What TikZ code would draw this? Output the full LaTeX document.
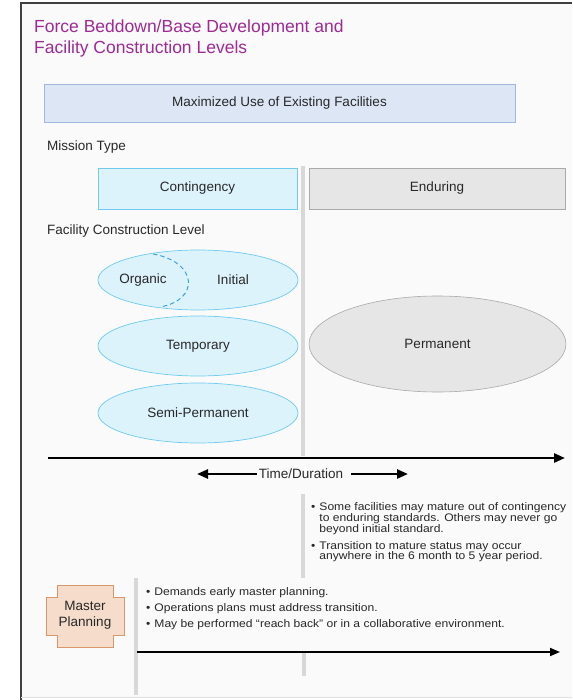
\documentclass[tikz,border=0pt]{standalone}
\usepackage{fontspec}
\setmainfont{Liberation Sans}
\newfontfamily\widefont[FakeStretch=1.1]{Liberation Sans}
\usetikzlibrary{arrows.meta,shapes.geometric}
\definecolor{titlepurple}{RGB}{158,42,150}
\definecolor{maxfill}{RGB}{220,230,245}
\definecolor{maxdraw}{RGB}{160,184,221}
\definecolor{contfill}{RGB}{221,243,252}
\definecolor{contdraw}{RGB}{110,203,239}
\definecolor{dashblue}{RGB}{60,165,220}
\definecolor{endfill}{RGB}{230,230,230}
\definecolor{enddraw}{RGB}{170,170,170}
\definecolor{sepgray}{RGB}{216,216,216}
\definecolor{mpfill}{RGB}{245,220,203}
\definecolor{mpdraw}{RGB}{217,150,107}
\definecolor{txt}{RGB}{40,40,40}
\tikzset{
  lbl/.style={font=\fontsize{13.5}{16}\selectfont, text=txt},
  sectlbl/.style={lbl, anchor=west, inner sep=0pt},
  contbox/.style={draw=contdraw, fill=contfill, line width=0.8pt},
  endbox/.style={draw=enddraw, fill=endfill, line width=0.6pt},
  contell/.style={ellipse, draw=contdraw, fill=contfill, line width=0.7pt, minimum width=200pt, minimum height=60pt, inner sep=0pt},
  sepline/.style={draw=sepgray, line width=4pt},
  timeline/.style={line width=2.6pt, -{Triangle[length=11pt,width=9pt]}},
  bullets/.style={font=\widefont\fontsize{11}{9.6}\selectfont, text=txt, anchor=base west, inner sep=0pt, align=left}
}
\begin{document}
\begin{tikzpicture}[x=1pt,y=-1pt]
\useasboundingbox (0,0) rectangle (572,700);
% frame
\fill[white!98!black] (21,3) rectangle (572,697);
\draw[black!75, line width=1.6pt] (21,700) -- (21,3) -- (572,3);
\draw[black!12, line width=0.6pt] (21,697) -- (572,697);
% title
\node[anchor=base west, align=left, text=titlepurple, font=\fontsize{17.5}{21}\selectfont, inner sep=0pt] (title) at (34,54) {Force Beddown/Base Development and\\Facility Construction Levels};
% maximized box
\node[draw=maxdraw, fill=maxfill, line width=0.8pt, minimum width=471pt, minimum height=38pt, lbl] (max) at (279.5,103) {Maximized Use of Existing Facilities};
% mission type
\node[sectlbl] (mt) at (47,147) {Mission Type};
% separator
\draw[sepline] (303,166) -- (303,456);
\node[contbox, minimum width=199pt, minimum height=41pt, lbl] (cont) at (197.5,188.5) {Contingency};
\node[endbox, minimum width=256pt, minimum height=41pt, lbl] (end) at (437,188.5) {Enduring};
\node[sectlbl] (fcl) at (47,231) {Facility Construction Level};
% ellipses
\node[contell] (init) at (198,280) {};
\node[lbl] (orgl) at (143,280) {Organic};
\node[lbl] (initl) at (233,280) {Initial};
\draw[dashblue, line width=1pt, dash pattern=on 4.5pt off 3pt] (153,254) .. controls (198,262) and (200,300) .. (160,307);
\node[contell, lbl] (temp) at (198,346) {Temporary};
\node[contell, lbl] (semi) at (198,413) {Semi-Permanent};
\node[ellipse, draw=enddraw, fill=endfill, line width=0.6pt, minimum width=257pt, minimum height=96pt, inner sep=0pt, lbl] (perm) at (437.5,344) {Permanent};
% main timeline
\coordinate (tl0) at (48,458);
\coordinate (tl1) at (565,458);
\draw[timeline] (tl0) -- (tl1);
% time/duration
\node[lbl, inner sep=2pt] (td) at (301,474) {Time/Duration};
\coordinate (tdl) at (197,474);
\coordinate (tdr) at (408,474);
\draw[line width=2.4pt, -{Triangle[length=11pt,width=9pt]}] (td.west) -- (tdl);
\draw[line width=2.4pt, -{Triangle[length=11pt,width=9pt]}] ([xshift=6pt]td.east) -- (tdr);
% separator lower
\draw[sepline] (303,494) -- (303,578);
\node[bullets] (rb1) at (311,510.5) {\begin{tabular}[t]{@{}l@{\hspace{4pt}}l@{}}\textbullet & Some facilities may mature out of contingency\\ & to enduring standards. Others may never go\\ & beyond initial standard.\end{tabular}};
\node[bullets] (rb2) at (311,549) {\begin{tabular}[t]{@{}l@{\hspace{4pt}}l@{}}\textbullet & Transition to mature status may occur\\ & anywhere in the 6 month to 5 year period.\end{tabular}};
% master planning
\draw[draw=mpdraw, fill=mpfill, line width=0.8pt] (57,585) -- (113,585) -- (113,597) -- (124,597) -- (124,635) -- (113,635) -- (113,647) -- (57,647) -- (57,635) -- (46,635) -- (46,597) -- (57,597) -- cycle;
\node[lbl, align=center] (mp) at (85,615) {Master\\Planning};
\draw[sepline] (136,578) -- (136,695);
\draw[sepline] (304,651) -- (304,676);
\node[bullets, font=\widefont\fontsize{11}{16.3}\selectfont] (lb1) at (146,595) {\begin{tabular}[t]{@{}l@{\hspace{4pt}}l@{}}\textbullet & Demands early master planning.\\ \textbullet & Operations plans must address transition.\\ \textbullet & May be performed “reach back” or in a collaborative environment.\end{tabular}};
\coordinate (bt0) at (137,652);
\coordinate (bt1) at (560,652);
\draw[line width=1.8pt, -{Triangle[length=10pt,width=8pt]}] (bt0) -- (bt1);
\end{tikzpicture}
\end{document}
